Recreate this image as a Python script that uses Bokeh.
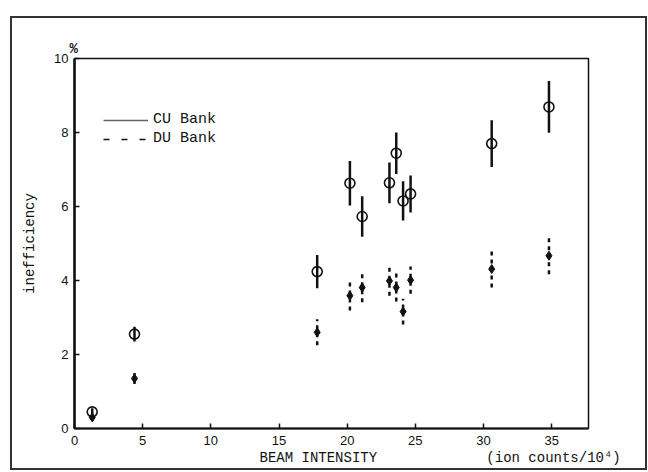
from bokeh.plotting import figure
from bokeh.models import ColumnDataSource, Legend, LegendItem, FixedTicker, Title
from bokeh.embed import file_html
from bokeh.resources import INLINE

# ---- data ----
beam = [1.3, 4.4, 17.8, 20.2, 21.1, 23.1, 23.6, 24.1, 24.65, 30.6, 34.8]
cu_ineff = [0.45, 2.55, 4.24, 6.63, 5.73, 6.64, 7.44, 6.15, 6.34, 7.70, 8.69]
cu_err = [0.10, 0.20, 0.45, 0.60, 0.55, 0.55, 0.56, 0.53, 0.50, 0.63, 0.70]
du_ineff = [0.30, 1.35, 2.60, 3.59, 3.81, 3.99, 3.81, 3.16, 4.01, 4.31, 4.67]
du_err = [0.08, 0.15, 0.35, 0.40, 0.40, 0.40, 0.38, 0.35, 0.37, 0.50, 0.50]
x_ticks = [0, 5, 10, 15, 20, 25, 30, 35]
y_ticks = [0, 2, 4, 6, 8, 10]
x_title = "BEAM INTENSITY"
x_unit = "(ion counts/10⁴)"
y_title = "inefficiency"
y_unit = "%"

MONO = "Liberation Mono"
SANS = "Liberation Sans"
INK = "#111111"
NB = "\u00a0"

cu = ColumnDataSource(dict(x=beam, y=cu_ineff,
                           lo=[v - e for v, e in zip(cu_ineff, cu_err)],
                           hi=[v + e for v, e in zip(cu_ineff, cu_err)]))
du = ColumnDataSource(dict(x=beam, y=du_ineff,
                           lo=[v - e for v, e in zip(du_ineff, du_err)],
                           hi=[v + e for v, e in zip(du_ineff, du_err)]))

p = figure(width=637, height=454, x_range=(0, 37.7), y_range=(0, 10),
           output_backend="svg", toolbar_location=None,
           min_border_left=62, min_border_right=61,
           min_border_top=40, min_border_bottom=44)
p.margin = (16, 0, 0, 10)
p.styles = {"border": "2px solid #333333"}

p.grid.visible = False
p.background_fill_color = "white"
p.border_fill_color = "white"
p.outline_line_color = INK
p.outline_line_width = 1.5

for ax in (p.xaxis[0], p.yaxis[0]):
    ax.major_tick_in = 5
    ax.major_tick_out = 0
    ax.minor_tick_line_color = None
    ax.axis_line_color = INK
    ax.major_tick_line_color = INK
    ax.major_tick_line_width = 1.5
    ax.major_label_text_font = SANS
    ax.major_label_text_font_size = "13px"
    ax.major_label_text_color = INK
    ax.major_label_standoff = 6

p.xaxis[0].ticker = FixedTicker(ticks=x_ticks)
p.yaxis[0].ticker = FixedTicker(ticks=y_ticks)
p.xaxis[0].axis_line_width = 2
p.xaxis[0].major_label_standoff = 7
p.yaxis[0].axis_line_width = 2.5

p.yaxis[0].axis_label = y_title
p.yaxis[0].axis_label_text_font = MONO
p.yaxis[0].axis_label_text_font_size = "14px"
p.yaxis[0].axis_label_text_font_style = "normal"
p.yaxis[0].axis_label_text_color = INK
p.yaxis[0].axis_label_standoff = 13

# error bars and markers
p.segment(x0="x", y0="lo", x1="x", y1="hi", source=cu, line_color=INK, line_width=2.5)
p.scatter(x="x", y="y", source=cu, marker="circle", size=10,
          fill_color=None, line_color=INK, line_width=1.6)
p.segment(x0="x", y0="lo", x1="x", y1="hi", source=du, line_color=INK,
          line_width=2.5, line_dash="4 4")
p.scatter(x="x", y="y", source=du, marker="diamond", size=9,
          fill_color=INK, line_color=INK)

# legend (proxy renderers placed off the visible range)
r_cu = p.line([-5, -4], [-5, -5], line_color="#666666", line_width=1.5)
r_du = p.line([-5, -4], [-5, -5], line_color=INK, line_width=1.5, line_dash="6 12")
leg = Legend(items=[LegendItem(label="CU Bank", renderers=[r_cu]),
                    LegendItem(label="DU Bank", renderers=[r_du])],
             location=(29, 281), padding=0, margin=0, spacing=2,
             glyph_width=45, glyph_height=16, label_standoff=5,
             label_text_font=MONO, label_text_font_size="15px",
             label_text_color=INK, background_fill_alpha=0,
             border_line_alpha=0)
p.add_layout(leg)

# unit above the y axis
p.title = Title(text=y_unit, align="left", offset=-5, standoff=3,
                text_font=MONO, text_font_size="14px", text_font_style="bold",
                text_color=INK)

# x title and unit on one line below the axis
p.add_layout(Title(text=x_title + NB * 13 + x_unit, align="left", offset=185,
                   standoff=0, text_font=MONO, text_font_size="14px",
                   text_font_style="normal", text_color=INK), "below")

open("out.html", "w").write(file_html(p, INLINE))
